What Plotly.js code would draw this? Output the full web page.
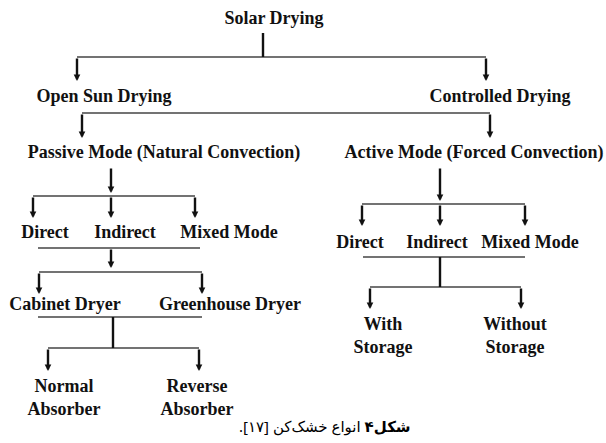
<!DOCTYPE html>
<html>
<head>
<meta charset="utf-8">
<script src="https://cdn.plot.ly/plotly-3.0.1.min.js"></script>
<style>html,body{margin:0;padding:0;background:#fff;}#chart{width:606px;height:443px;}</style>
</head>
<body>
<div id="chart"></div>
<script>
// Node labels of the classification tree and their places on the page grid
const nodeLabels = [
  "Solar Drying",
  "Open Sun Drying", "Controlled Drying",
  "Passive Mode (Natural Convection)", "Active Mode (Forced Convection)",
  "Direct", "Indirect", "Mixed Mode",
  "Direct", "Indirect", "Mixed Mode",
  "Cabinet Dryer", "Greenhouse Dryer",
  "Normal<br>Absorber", "Reverse<br>Absorber",
  "With<br>Storage", "Without<br>Storage"
];
const nodeX = [274, 104, 500, 164, 474, 45, 125, 229, 360, 437, 530, 65, 230, 64, 197, 383, 515];
const nodeY = [19, 97, 97, 153, 153, 233, 233, 233, 243, 243, 243, 305, 305, 399, 399, 337, 337];

// Thin horizontal connector bars: level y, from x, to x
const barY  = [57, 113, 196, 248, 272, 317, 348, 204, 257, 287];
const barX0 = [77, 82, 33, 38, 39, 38, 48, 362, 363, 370];
const barX1 = [486, 490, 195, 200, 202, 202, 199, 525, 525, 521];

// Downward arrows: x, start y, tip y
const arrowX    = [77, 486, 82, 490, 111, 33, 111, 195, 111, 39, 202, 48, 199, 440, 362, 440, 525, 370, 521];
const arrowFrom = [57, 57, 113, 113, 167, 196, 196, 196, 248, 272, 272, 348, 348, 167, 204, 204, 204, 287, 287];
const arrowTo   = [81, 81, 138, 138, 193, 218, 218, 218, 268, 294, 294, 371, 371, 201, 226, 226, 226, 309, 309];

// Plain stems without heads: x, start y, end y
const stemX    = [263, 113, 440];
const stemFrom = [33, 317, 257];
const stemTo   = [57, 348, 287];

const captionText = "<b>شکل۴</b> انواع خشک‌کن [۱۷].\u200F";
const captionX = 325, captionY = 426;

// Build line traces
const bx = [], by = [];
barY.forEach((y, i) => { bx.push(barX0[i], barX1[i], null); by.push(y, y, null); });
const sx = [], sy = [];
stemX.forEach((x, i) => { sx.push(x, x, null); sy.push(stemFrom[i], stemTo[i], null); });

const traces = [
  {x: bx, y: by, mode: 'lines', line: {color: '#444', width: 1.6}, hoverinfo: 'skip', showlegend: false},
  {x: sx, y: sy, mode: 'lines', line: {color: '#111', width: 2.4}, hoverinfo: 'skip', showlegend: false},
  {x: nodeX, y: nodeY, mode: 'text', text: nodeLabels, textposition: 'middle center',
   textfont: {family: '"Liberation Serif", "Times New Roman", serif', size: 18, color: '#111', weight: 'bold'},
   hoverinfo: 'skip', showlegend: false}
];

const annotations = arrowX.map((x, i) => ({
  x: x, y: arrowTo[i], ax: x, ay: arrowFrom[i], xref: 'x', yref: 'y', axref: 'x', ayref: 'y',
  showarrow: true, arrowhead: 2, arrowsize: 0.55, arrowwidth: 2.4, arrowcolor: '#111', text: ''
}));
annotations.push({
  x: captionX, y: captionY, xref: 'x', yref: 'y', showarrow: false, text: captionText,
  font: {family: '"Noto Sans", "DejaVu Sans", sans-serif', size: 15, color: '#000'}
});

const layout = {
  width: 606, height: 443,
  margin: {l: 0, r: 0, t: 0, b: 0},
  paper_bgcolor: '#fff', plot_bgcolor: '#fff',
  xaxis: {range: [0, 606], visible: false, fixedrange: true},
  yaxis: {range: [443, 0], visible: false, fixedrange: true},
  annotations: annotations,
  showlegend: false
};

Plotly.newPlot('chart', traces, layout, {staticPlot: true, displayModeBar: false});
</script>
</body>
</html>
